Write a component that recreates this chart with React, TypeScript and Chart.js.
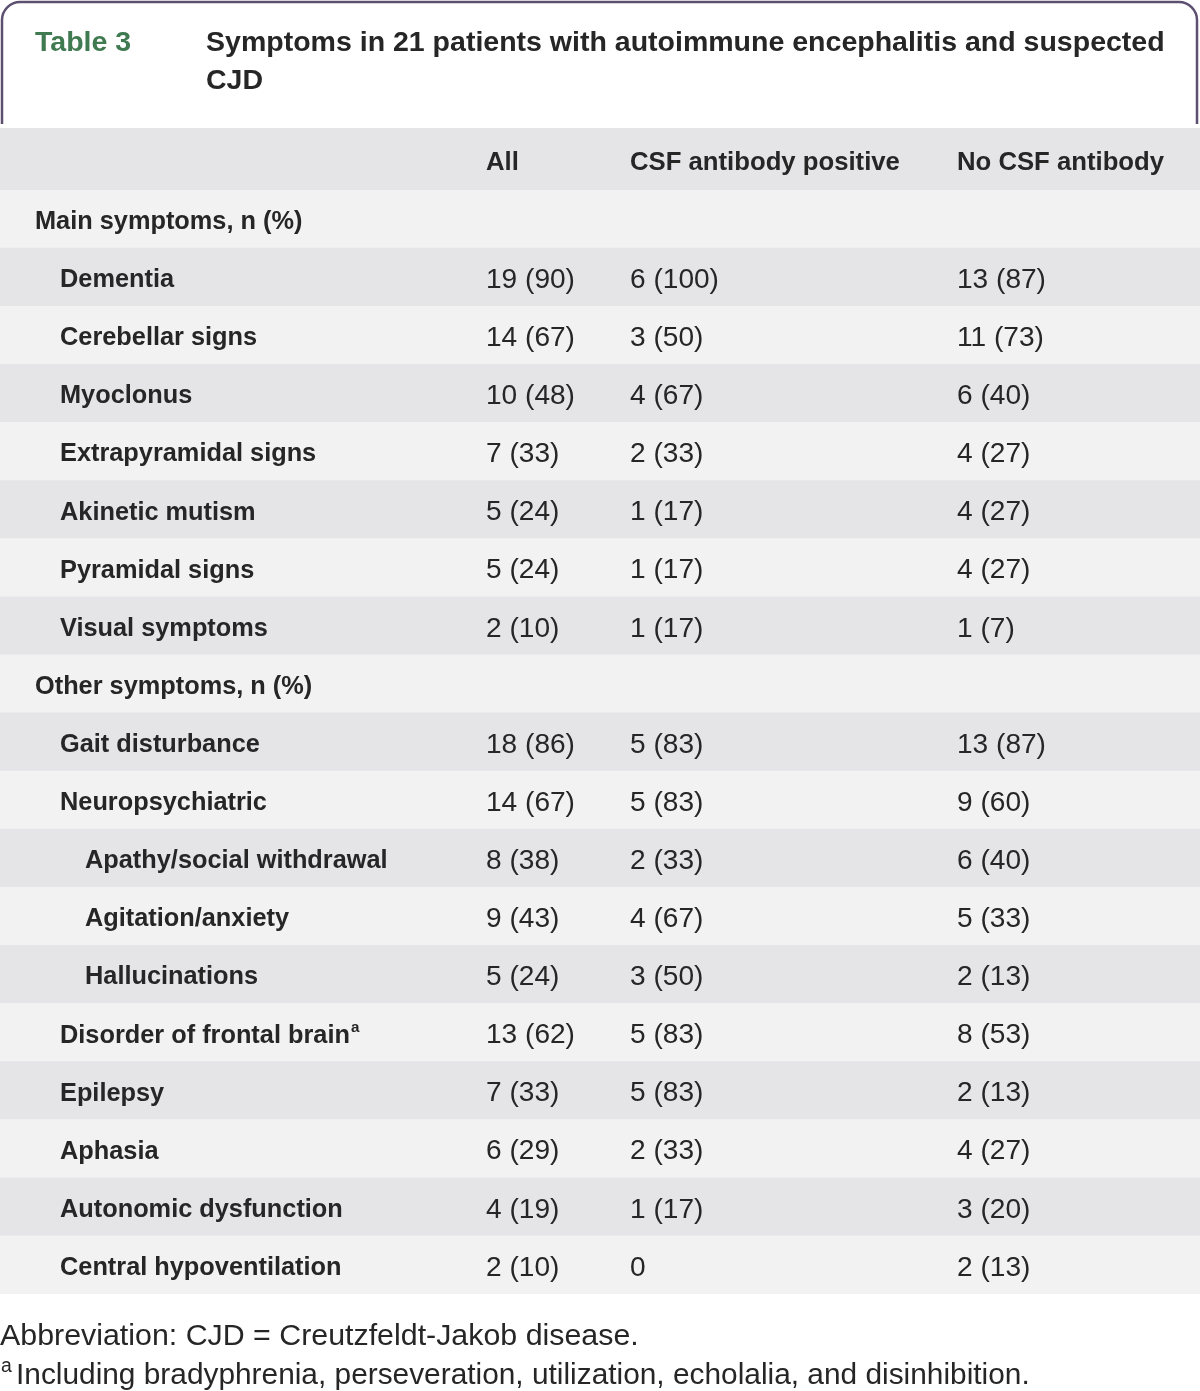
import React, { useEffect, useRef } from "react";
import { Chart, registerables } from "chart.js";

Chart.register(...registerables);

const tableNumber = "Table 3";
const titleLines = [
  "Symptoms in 21 patients with autoimmune encephalitis and suspected",
  "CJD",
];
const columnHeaders = ["All", "CSF antibody positive", "No CSF antibody"];

const rowLabels = [
  "Main symptoms, n (%)",
  "Dementia",
  "Cerebellar signs",
  "Myoclonus",
  "Extrapyramidal signs",
  "Akinetic mutism",
  "Pyramidal signs",
  "Visual symptoms",
  "Other symptoms, n (%)",
  "Gait disturbance",
  "Neuropsychiatric",
  "Apathy/social withdrawal",
  "Agitation/anxiety",
  "Hallucinations",
  "Disorder of frontal brain",
  "Epilepsy",
  "Aphasia",
  "Autonomic dysfunction",
  "Central hypoventilation",
];
const rowLevels = [0, 1, 1, 1, 1, 1, 1, 1, 0, 1, 1, 2, 2, 2, 1, 1, 1, 1, 1];
const rowNotes = ["", "", "", "", "", "", "", "", "", "", "", "", "", "", "a", "", "", "", ""];

const allValues = [
  "", "19 (90)", "14 (67)", "10 (48)", "7 (33)", "5 (24)", "5 (24)", "2 (10)",
  "", "18 (86)", "14 (67)", "8 (38)", "9 (43)", "5 (24)", "13 (62)", "7 (33)",
  "6 (29)", "4 (19)", "2 (10)",
];
const csfPositiveValues = [
  "", "6 (100)", "3 (50)", "4 (67)", "2 (33)", "1 (17)", "1 (17)", "1 (17)",
  "", "5 (83)", "5 (83)", "2 (33)", "4 (67)", "3 (50)", "5 (83)", "5 (83)",
  "2 (33)", "1 (17)", "0",
];
const noCsfValues = [
  "", "13 (87)", "11 (73)", "6 (40)", "4 (27)", "4 (27)", "4 (27)", "1 (7)",
  "", "13 (87)", "9 (60)", "6 (40)", "5 (33)", "2 (13)", "8 (53)", "2 (13)",
  "4 (27)", "3 (20)", "2 (13)",
];

const footnoteAbbrev = "Abbreviation: CJD = Creutzfeldt-Jakob disease.";
const footnoteMark = "a";
const footnoteText = "Including bradyphrenia, perseveration, utilization, echolalia, and disinhibition.";

const W = 1200;
const H = 1391;
const TEXT = "#262626";
const DARK = "#e5e5e8";
const LIGHT = "#f2f2f2";
const FAMILY = '"Liberation Sans", Arial, sans-serif';

function fit(ctx: CanvasRenderingContext2D, text: string, weight: string, target: number) {
  ctx.font = `${weight} 100px ${FAMILY}`;
  const w = ctx.measureText(text).width;
  return (100 * target) / w;
}

const tablePlugin = {
  id: "tableText",
  beforeDraw(chart: any) {
    const ctx: CanvasRenderingContext2D = chart.ctx;
    ctx.save();
    ctx.fillStyle = "#ffffff";
    ctx.fillRect(0, 0, W, H);
    // frame of the title box
    ctx.strokeStyle = "#5d4f70";
    ctx.lineWidth = 2.5;
    const r = 18;
    ctx.beginPath();
    ctx.moveTo(2, 124);
    ctx.lineTo(2, 2 + r);
    ctx.arcTo(2, 2, 2 + r, 2, r);
    ctx.lineTo(1197 - r, 2);
    ctx.arcTo(1197, 2, 1197, 2 + r, r);
    ctx.lineTo(1197, 124);
    ctx.stroke();
    // header band
    ctx.fillStyle = DARK;
    ctx.fillRect(0, 128, W, 62);
    ctx.restore();
  },
  afterDatasetsDraw(chart: any) {
    const ctx: CanvasRenderingContext2D = chart.ctx;
    const x = chart.scales.x;
    const y = chart.scales.y;
    ctx.save();
    ctx.textBaseline = "middle";
    ctx.textAlign = "left";

    // title
    const tSize = fit(ctx, titleLines[0], "bold", 959);
    ctx.font = `bold ${tSize}px ${FAMILY}`;
    ctx.fillStyle = "#3f7a50";
    ctx.fillText(tableNumber, 35, 43);
    ctx.fillStyle = TEXT;
    ctx.fillText(titleLines[0], 206, 43);
    ctx.fillText(titleLines[1], 206, 81);

    // column headers
    const hSize = fit(ctx, columnHeaders[1], "bold", 270);
    ctx.font = `bold ${hSize}px ${FAMILY}`;
    const colX = [x.getPixelForValue(486), x.getPixelForValue(630), x.getPixelForValue(957)];
    columnHeaders.forEach((h, k) => ctx.fillText(h, colX[k], 163));

    // rows
    const lSize = fit(ctx, "Autonomic dysfunction", "bold", 283);
    const vSize = fit(ctx, "13 (62)", "normal", 89);
    const indent = [35, 60, 85];
    rowLabels.forEach((lab, i) => {
      const py = y.getPixelForValue(i) + 3;
      ctx.fillStyle = TEXT;
      ctx.font = `bold ${lSize}px ${FAMILY}`;
      const lx = x.getPixelForValue(indent[rowLevels[i]]);
      ctx.fillText(lab, lx, py);
      if (rowNotes[i]) {
        const lw = ctx.measureText(lab).width;
        ctx.font = `bold ${lSize * 0.6}px ${FAMILY}`;
        ctx.fillText(rowNotes[i], lx + lw + 1, py - 8);
      }
      ctx.font = `normal ${vSize}px ${FAMILY}`;
      ctx.fillText(allValues[i], colX[0], py);
      ctx.fillText(csfPositiveValues[i], colX[1], py);
      ctx.fillText(noCsfValues[i], colX[2], py);
    });

    // footnotes
    const fSize = fit(ctx, footnoteAbbrev, "normal", 639);
    ctx.font = `normal ${fSize}px ${FAMILY}`;
    ctx.fillStyle = TEXT;
    ctx.fillText(footnoteAbbrev, 0, 1337);
    const f2Size = fit(ctx, footnoteText, "normal", 1014);
    ctx.font = `normal ${f2Size * 0.65}px ${FAMILY}`;
    ctx.fillText(footnoteMark, 1, 1367);
    ctx.font = `normal ${f2Size}px ${FAMILY}`;
    ctx.fillText(footnoteText, 16, 1376);
    ctx.restore();
  },
};

export default function App() {
  const ref = useRef<HTMLCanvasElement | null>(null);
  useEffect(() => {
    document.body.style.margin = "0";
    if (!ref.current) return;
    const chart = new Chart(ref.current, {
      type: "bar",
      data: {
        labels: rowLabels,
        datasets: [
          {
            data: rowLabels.map(() => [0, W]) as any,
            backgroundColor: rowLabels.map((_, i) => (i % 2 === 0 ? LIGHT : DARK)),
            borderWidth: 0,
            barPercentage: 1,
            categoryPercentage: 1,
          },
        ],
      },
      options: {
        indexAxis: "y",
        responsive: false,
        animation: false,
        devicePixelRatio: 1,
        layout: { padding: { top: 190, bottom: 97, left: 0, right: 0 } },
        plugins: { legend: { display: false }, tooltip: { enabled: false } },
        scales: {
          x: { type: "linear", min: 0, max: W, display: false },
          y: { type: "category", display: false, offset: true },
        },
      },
      plugins: [tablePlugin],
    });
    return () => chart.destroy();
  }, []);
  return <canvas ref={ref} width={W} height={H} style={{ display: "block" }} />;
}
